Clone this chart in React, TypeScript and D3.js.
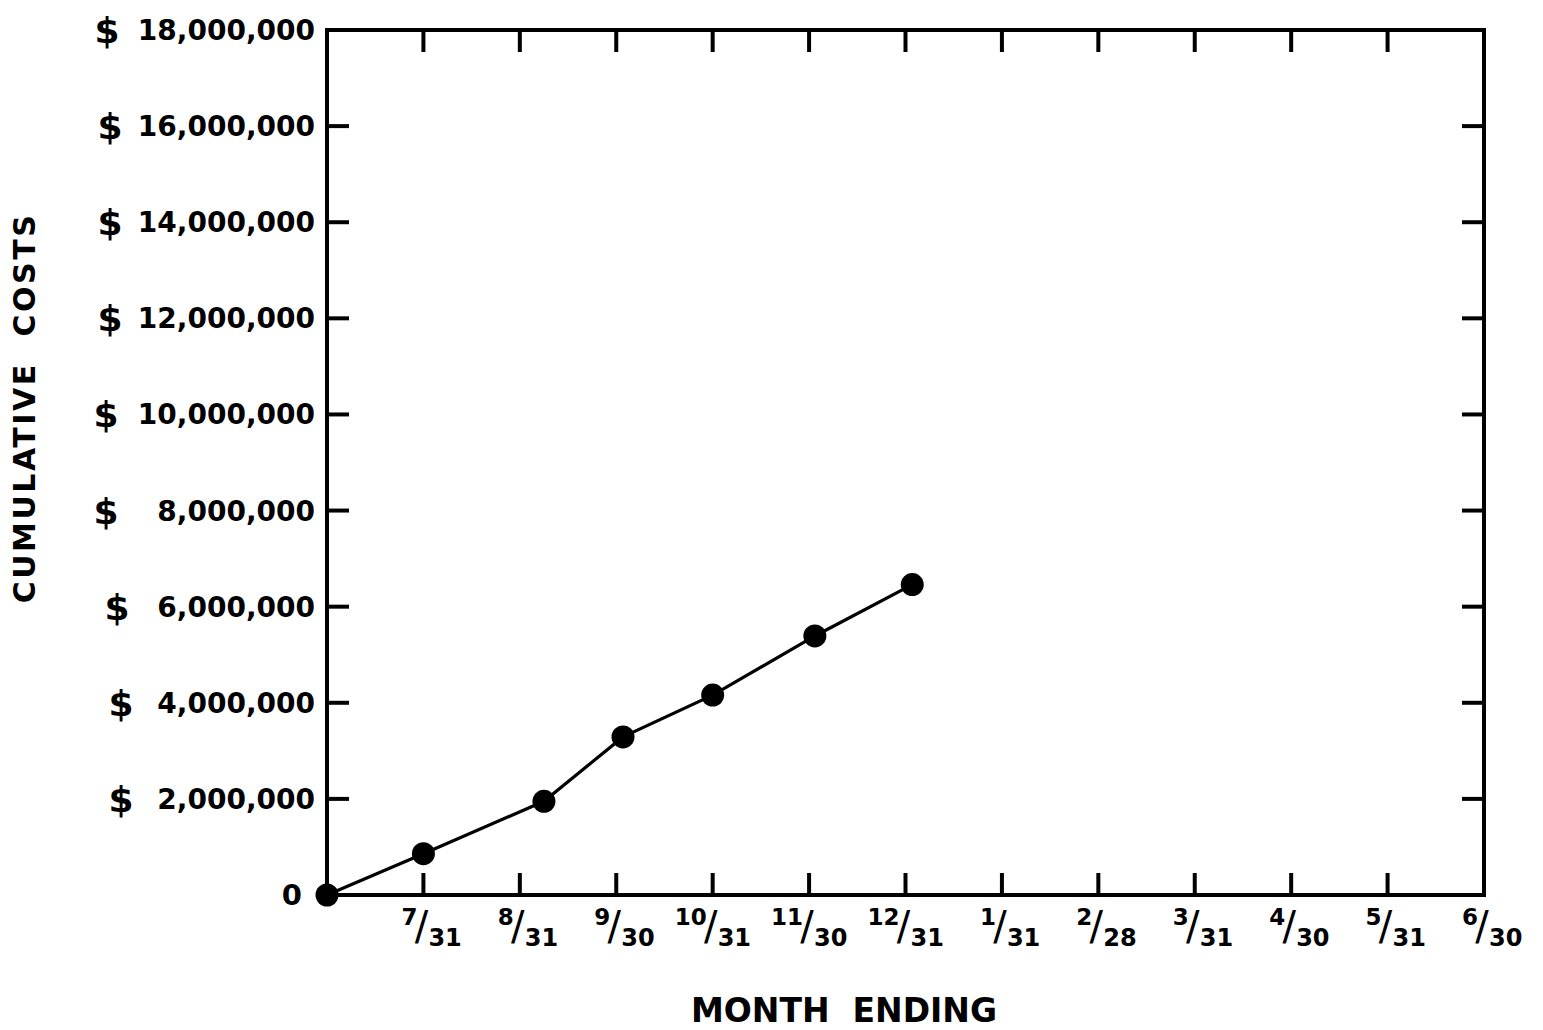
import React from "react";
import * as d3 from "d3";

const monthLabels = ["", "7/31", "8/31", "9/30", "10/31", "11/30", "12/31", "1/31", "2/28", "3/31", "4/30", "5/31", "6/30"];
const yTicks = [0, 2000000, 4000000, 6000000, 8000000, 10000000, 12000000, 14000000, 16000000, 18000000];
// month index (0 = start of fiscal year) and cumulative costs in dollars
const pointMonths = [0, 1, 2.25, 3.07, 4.0, 5.06, 6.07];
const pointCosts = [0, 860000, 1950000, 3290000, 4160000, 5390000, 6460000];

const W = 1543;
const H = 1030;
const L = 327, R = 1484, T = 30, B = 895;
const FONT = "'DejaVu Sans', 'Liberation Sans', sans-serif";
// hand-lettered dollar signs sit at slightly different x per row (index by tick)
const dollarX = [0, 121, 121, 117, 106, 106, 110, 110, 110, 107];

export default function App() {
  const x = d3.scaleLinear().domain([0, 12]).range([L, R]);
  const y = d3.scaleLinear().domain([0, 18000000]).range([B, T]);
  const line = d3.line<number>().x((_, i) => x(pointMonths[i])).y((d) => y(d));
  const fmt = d3.format(",");
  const tickLen = 22;
  const sw = 4;

  return (
    <svg width={W} height={H} style={{ position: "absolute", left: 0, top: 0, background: "#fff" }}>
      <rect x={0} y={0} width={W} height={H} fill="#fff" />
      {/* frame */}
      <rect x={L} y={T} width={R - L} height={B - T} fill="none" stroke="#000" strokeWidth={sw} />
      {/* x ticks top & bottom */}
      {monthLabels.map((m, i) =>
        i > 0 && i < 12 ? (
          <g key={"xt" + i}>
            <line x1={x(i)} x2={x(i)} y1={B} y2={B - tickLen} stroke="#000" strokeWidth={sw} />
            <line x1={x(i)} x2={x(i)} y1={T} y2={T + tickLen} stroke="#000" strokeWidth={sw} />
          </g>
        ) : null
      )}
      {/* y ticks left & right */}
      {yTicks.map((v, i) =>
        i > 0 && i < yTicks.length - 1 ? (
          <g key={"yt" + i}>
            <line x1={L} x2={L + tickLen} y1={y(v)} y2={y(v)} stroke="#000" strokeWidth={sw} />
            <line x1={R} x2={R - tickLen} y1={y(v)} y2={y(v)} stroke="#000" strokeWidth={sw} />
          </g>
        ) : null
      )}
      {/* y labels */}
      {yTicks.map((v, i) =>
        v === 0 ? (
          <text key={"yl" + i} x={302} y={y(v) + 10} textAnchor="end" fontFamily={FONT} fontSize={29} fontWeight="bold" fill="#000">0</text>
        ) : (
          <g key={"yl" + i}>
            <text x={dollarX[i]} y={y(v) + 13} textAnchor="middle" fontFamily={FONT} fontSize={36} fontWeight="bold" fill="#000">$</text>
            <text x={315} y={y(v) + 10} textAnchor="end" fontFamily={FONT} fontSize={28} fontWeight="bold" fill="#000">{fmt(v)}</text>
          </g>
        )
      )}
      {/* x labels as fractions */}
      {monthLabels.map((m, i) => {
        if (!m) return null;
        const [num, den] = m.split("/");
        const tx = x(i);
        return (
          <g key={"xl" + i} fontFamily={FONT} fontWeight="bold" fill="#000">
            <text x={tx - 6} y={925} textAnchor="end" fontSize={23}>{num}</text>
            <text x={tx - 2} y={940} textAnchor="middle" fontSize={40} fontWeight="normal">/</text>
            <text x={tx + 5} y={946} textAnchor="start" fontSize={24}>{den}</text>
          </g>
        );
      })}
      {/* data line and points */}
      <path d={line(pointCosts) || ""} fill="none" stroke="#000" strokeWidth={3.2} />
      {pointCosts.map((v, i) => (
        <circle key={"p" + i} cx={x(pointMonths[i])} cy={y(v)} r={11.5} fill="#000" />
      ))}
      {/* axis titles */}
      <text x={844} y={1022} textAnchor="middle" fontFamily={FONT} fontSize={33} fontWeight="bold" fill="#000" style={{ whiteSpace: "pre" }}>
        {"MONTH  ENDING"}
      </text>
      <text transform={`translate(35,408) rotate(-90)`} textAnchor="middle" fontFamily={FONT} fontSize={30} fontWeight="bold" letterSpacing={2.5} fill="#000" style={{ whiteSpace: "pre" }}>
        {"CUMULATIVE  COSTS"}
      </text>
    </svg>
  );
}
